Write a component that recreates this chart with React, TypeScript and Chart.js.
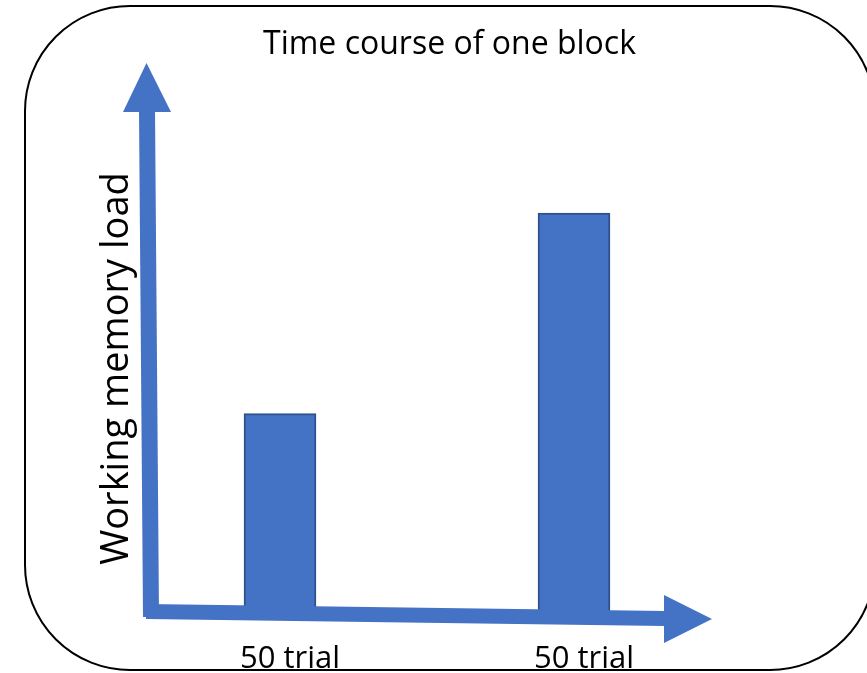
import React, { useEffect, useRef } from "react";
import { Chart, registerables } from "chart.js";

Chart.register(...registerables);

const chartTitle = "Time course of one block";
const yAxisTitle = "Working memory load";
const categories = ["50 trial", "50 trial"];
const loadValues = [4.1, 8.1];
const yMin = 0;
const yMax = 10;

const BLUE = "#4472C4";
const BAR_BORDER = "#2F528F";
const FONT = "'Open Sans', 'DejaVu Sans', sans-serif";

const framePlugin = {
  id: "frame",
  beforeDraw(chart: any) {
    const ctx = chart.ctx;
    ctx.save();
    ctx.fillStyle = "#ffffff";
    ctx.fillRect(0, 0, chart.width, chart.height);
    ctx.beginPath();
    const x0 = 25, y0 = 6, x1 = 875, y1 = 670, r = 105;
    ctx.moveTo(x0 + r, y0);
    ctx.lineTo(x1 - r, y0);
    ctx.arcTo(x1, y0, x1, y0 + r, r);
    ctx.lineTo(x1, y1 - r);
    ctx.arcTo(x1, y1, x1 - r, y1, r);
    ctx.lineTo(x0 + r, y1);
    ctx.arcTo(x0, y1, x0, y1 - r, r);
    ctx.lineTo(x0, y0 + r);
    ctx.arcTo(x0, y0, x0 + r, y0, r);
    ctx.closePath();
    ctx.lineWidth = 2;
    ctx.strokeStyle = "#000000";
    ctx.stroke();
    // title
    ctx.fillStyle = "#000000";
    ctx.font = `32px ${FONT}`;
    ctx.textAlign = "center";
    ctx.textBaseline = "alphabetic";
    ctx.fillText(chartTitle, 449.5, 54);
    ctx.restore();
  },
};

const arrowsPlugin = {
  id: "arrows",
  afterDatasetsDraw(chart: any) {
    const ctx = chart.ctx;
    const a = chart.chartArea;
    const L = a.left, T = a.top, B = a.bottom;
    ctx.save();
    ctx.fillStyle = BLUE;
    // y axis shaft (slightly tilted)
    ctx.beginPath();
    ctx.moveTo(L + 6, T - 7);
    ctx.lineTo(L + 22, T - 7);
    ctx.lineTo(L + 26, B - 2);
    ctx.lineTo(L + 10, B - 2);
    ctx.closePath();
    ctx.fill();
    // y arrow head
    ctx.beginPath();
    ctx.moveTo(L - 10, T - 6);
    ctx.lineTo(L + 38, T - 6);
    ctx.lineTo(L + 13.5, T - 55);
    ctx.closePath();
    ctx.fill();
    // x axis shaft
    ctx.beginPath();
    ctx.moveTo(L + 13, B - 15);
    ctx.lineTo(L + 532, B - 8);
    ctx.lineTo(L + 532, B + 7);
    ctx.lineTo(L + 13, B);
    ctx.closePath();
    ctx.fill();
    // x arrow head
    ctx.beginPath();
    ctx.moveTo(L + 531, B - 24);
    ctx.lineTo(L + 579, B);
    ctx.lineTo(L + 531, B + 24);
    ctx.closePath();
    ctx.fill();
    ctx.restore();
  },
};

export default function App() {
  const canvasRef = useRef<HTMLCanvasElement | null>(null);

  useEffect(() => {
    document.body.style.margin = "0";
    const canvas = canvasRef.current;
    if (!canvas) return;
    const chart = new Chart(canvas, {
      type: "bar",
      data: {
        labels: categories,
        datasets: [
          {
            data: loadValues,
            backgroundColor: BLUE,
            borderColor: BAR_BORDER,
            borderWidth: 2,
            barThickness: 72,
          },
        ],
      },
      options: {
        animation: false,
        responsive: false,
        devicePixelRatio: 1,
        layout: { padding: { top: 118, left: 0, right: 146, bottom: -27 } },
        plugins: {
          legend: { display: false },
          tooltip: { enabled: false },
          title: { display: false },
        },
        scales: {
          x: {
            type: "category",
            grid: { display: false, drawTicks: false },
            border: { display: false },
            ticks: {
              color: "#000000",
              font: { family: FONT, size: 31, lineHeight: 1 },
              padding: 25,
              labelOffset: 10,
              maxRotation: 0,
              autoSkip: false,
            },
          },
          y: {
            min: yMin,
            max: yMax,
            grid: { display: false, drawTicks: false },
            border: { display: false },
            ticks: { display: false },
            title: {
              display: true,
              text: yAxisTitle,
              color: "#000000",
              font: { family: FONT, size: 38, lineHeight: 0.8 },
              padding: { top: 101.6, bottom: 1 },
            },
          },
        },
      },
      plugins: [framePlugin, arrowsPlugin],
    });
    return () => chart.destroy();
  }, []);

  return (
    <div style={{ position: "absolute", left: 0, top: 0, width: 867, height: 673 }}>
      <canvas ref={canvasRef} width={867} height={673} style={{ width: 867, height: 673 }} />
    </div>
  );
}
